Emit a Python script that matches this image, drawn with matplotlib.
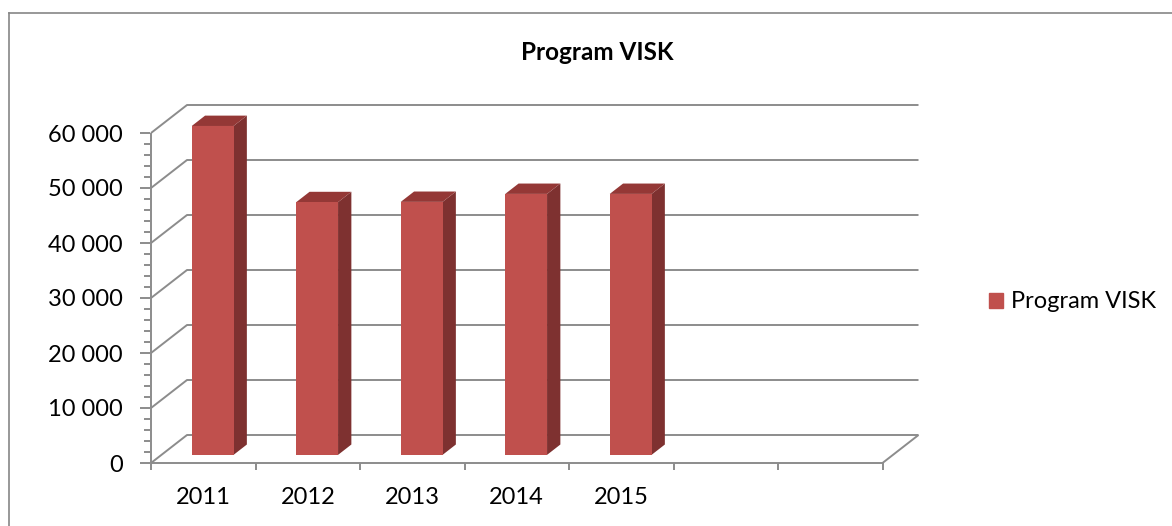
import matplotlib.pyplot as plt
from matplotlib.patches import Polygon, Patch
from matplotlib.lines import Line2D
from matplotlib.transforms import offset_copy

# chart data
categories = ['2011', '2012', '2013', '2014', '2015', '', '']
values = [59800, 45950, 46000, 47450, 47450]
y_ticks = [0, 10000, 20000, 30000, 40000, 50000, 60000]
y_labels = ['0', '10 000', '20 000', '30 000', '40 000', '50 000', '60 000']
title = 'Program VISK'
series_name = 'Program VISK'

plt.rcParams['font.family'] = ['Lato', 'DejaVu Sans']

front_col = '#C0504D'
top_col = '#943836'
side_col = '#7E3130'
grid_col = '#8C8C8C'

W, H = 1172, 526
fig = plt.figure(figsize=(W / 100, H / 100), dpi=100)
ax = fig.add_axes([0, 0, 1, 1])
ax.axis('off')

# map data units onto pixels: front-left floor corner and scales
x0_px, y0_px = 151, 463
px_per_cat = 104.5
px_per_val = 5.5 / 1000
ax.set_xlim(-x0_px / px_per_cat, (W - x0_px) / px_per_cat)
ax.set_ylim(-(H - y0_px) / px_per_val, y0_px / px_per_val)

# oblique depth of the 3D box
ddx = 36 / px_per_cat
ddy = 28 / px_per_val
n = len(categories)
ymax = y_ticks[-1]


def proj(x, y, d):
    return (x + d * ddx, y + d * ddy)


line_kw = dict(color=grid_col, lw=1.4, solid_capstyle='butt', zorder=1)

# left wall diagonals + back wall gridlines
for v in y_ticks:
    pts = [proj(0, v, 0), proj(0, v, 1), proj(n, v, 1)]
    ax.plot([p[0] for p in pts], [p[1] for p in pts], **line_kw)

# floor front edge and right side
pts = [proj(0, 0, 0), proj(n, 0, 0), proj(n, 0, 1)]
ax.plot([p[0] for p in pts], [p[1] for p in pts], **line_kw)

# front value axis with ticks
ax.plot([0, 0], [0, ymax], **line_kw)
px = 1 / px_per_cat
for v in range(0, ymax + 1, 2000):
    length = 11 if v % 10000 == 0 else 7
    ax.plot([-length * px, -1 * px], [v, v], **line_kw)

# category ticks
for i in range(n + 1):
    ax.plot([i, i], [0, -7 / px_per_val], **line_kw)

# bars
f1, f2 = 0.29, 0.66
w, c = 0.40, 0.49
for i, v in enumerate(values):
    xl, xr = i + c - w / 2, i + c + w / 2
    front = [proj(xl, 0, f1), proj(xr, 0, f1), proj(xr, v, f1), proj(xl, v, f1)]
    top = [proj(xl, v, f1), proj(xr, v, f1), proj(xr, v, f2), proj(xl, v, f2)]
    side = [proj(xr, 0, f1), proj(xr, 0, f2), proj(xr, v, f2), proj(xr, v, f1)]
    ax.add_patch(Polygon(side, closed=True, fc=side_col, ec='none', zorder=3))
    ax.add_patch(Polygon(top, closed=True, fc=top_col, ec='none', zorder=3))
    ax.add_patch(Polygon(front, closed=True, fc=front_col, ec='none', zorder=4))

# tick labels
fs = 17
ylab_tr = offset_copy(ax.transData, fig=fig, x=-28, y=-2, units='dots')
for v, lab in zip(y_ticks, y_labels):
    ax.text(0, v, lab, transform=ylab_tr, ha='right', va='center',
            fontsize=fs, color='black')

xlab_tr = offset_copy(ax.transData, fig=fig, x=0, y=-35, units='dots')
for i, lab in enumerate(categories):
    ax.text(i + 0.5, 0, lab, transform=xlab_tr, ha='center', va='center',
            fontsize=fs, color='black')

# title
fig.text(597 / W, 1 - 52 / H, title, ha='center', va='center',
         fontsize=17.5, fontweight='bold')

# legend
ax.legend(handles=[Patch(color=front_col, label=series_name)],
          loc='center left', bbox_to_anchor=(989 / W, 1 - 302 / H),
          bbox_transform=fig.transFigure, frameon=False, fontsize=fs,
          handlelength=0.6, handleheight=0.6, handletextpad=0.35,
          borderpad=0, borderaxespad=0)

# chart area border
fig.add_artist(Line2D([9 / W, 9 / W], [0, 1 - 13 / H], transform=fig.transFigure,
                      color='#868686', lw=1.2))
fig.add_artist(Line2D([9 / W, 1], [1 - 13 / H, 1 - 13 / H], transform=fig.transFigure,
                      color='#868686', lw=1.2))

fig.savefig('out.png', dpi=100, facecolor='white')
